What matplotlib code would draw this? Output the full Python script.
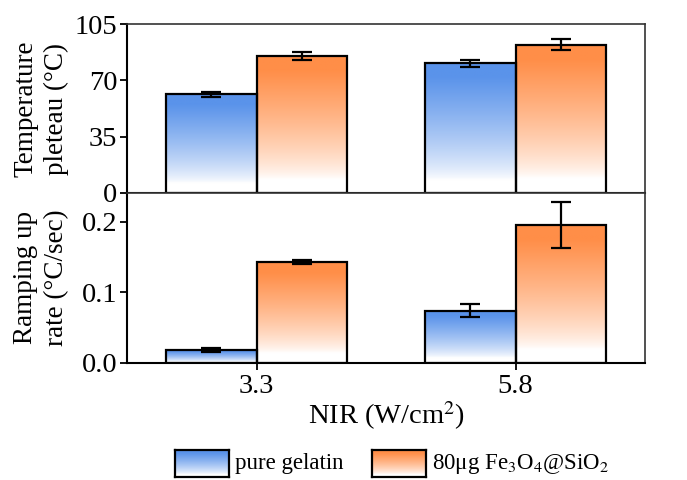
import numpy as np
import matplotlib
matplotlib.use("Agg")
import matplotlib.pyplot as plt
from matplotlib.colors import LinearSegmentedColormap
from matplotlib.patches import Rectangle

# Data
groups       = ["3.3", "5.8"]
plateau_gel  = [61.3, 80.7]
plateau_gel_err = [1.3, 2.2]
plateau_fe   = [85.2, 92.3]
plateau_fe_err = [2.7, 3.3]
rate_gel     = [0.0176, 0.074]
rate_gel_err = [0.003, 0.009]
rate_fe      = [0.143, 0.196]
rate_fe_err  = [0.003, 0.033]
labels = ["pure gelatin", "80\u03bcg Fe$_3$O$_4$@SiO$_2$"]

# Style
BLUE   = "#5A93EA"
ORANGE = "#FF8E48"
WIDTH  = 0.35
plt.rcParams["font.family"] = ["Liberation Serif", "DejaVu Serif"]
plt.rcParams["mathtext.fontset"] = "stix"
FS = 20.5
LFS = 19.5

cmaps = [LinearSegmentedColormap.from_list("b", ["white", BLUE]),
         LinearSegmentedColormap.from_list("o", ["white", ORANGE])]
t = np.linspace(0, 1, 256).reshape(-1, 1)
grad = np.clip((t - 0.1) / 0.8, 0, 1) ** 0.75


def grad_bar(ax, x, h, cmap):
    """Draws a bar filled with a vertical white-to-colour gradient"""
    x0 = x - WIDTH / 2
    ax.imshow(grad, cmap=cmap, origin="lower", aspect="auto",
              extent=[x0, x0 + WIDTH, 0, h], zorder=1)
    ax.add_patch(Rectangle((x0, 0), WIDTH, h, facecolor="none",
                           edgecolor="black", linewidth=1.6, zorder=2))


def panel(ax, gel, gel_err, fe, fe_err):
    xs = np.arange(len(groups))
    for i, x in enumerate(xs):
        grad_bar(ax, x - WIDTH / 2, gel[i], cmaps[0])
        grad_bar(ax, x + WIDTH / 2, fe[i], cmaps[1])
    ax.errorbar(xs - WIDTH / 2, gel, yerr=gel_err, fmt="none", ecolor="black",
                elinewidth=1.6, capsize=7, capthick=1.6, zorder=3)
    ax.errorbar(xs + WIDTH / 2, fe, yerr=fe_err, fmt="none", ecolor="black",
                elinewidth=1.6, capsize=7, capthick=1.6, zorder=3)
    ax.set_xlim(-0.5, 1.5)
    for s in ["left", "bottom"]:
        ax.spines[s].set_linewidth(1.5)
    for s in ["top", "right"]:
        ax.spines[s].set_linewidth(1.2)
        ax.spines[s].set_color("#333333")
    ax.tick_params(axis="y", direction="out", length=5, width=1.3, labelsize=FS, pad=2)
    ax.tick_params(axis="x", direction="out", length=5, width=1.3, labelsize=FS)


fig = plt.figure(figsize=(6.87, 4.8), dpi=100)
ax1 = fig.add_axes([0.185, 0.5985, 0.754, 0.3508])
ax2 = fig.add_axes([0.185, 0.2444, 0.754, 0.3541])

panel(ax1, plateau_gel, plateau_gel_err, plateau_fe, plateau_fe_err)
ax1.set_ylim(0, 105)
ax1.set_yticks([0, 35, 70, 105])
ax1.set_xticks([])
ax1.set_ylabel("Temperature\npleteau (\u00b0C)", fontsize=LFS, linespacing=1.3)

panel(ax2, rate_gel, rate_gel_err, rate_fe, rate_fe_err)
ax2.set_ylim(0, 0.2415)
ax2.set_yticks([0.0, 0.1, 0.2])
ax2.set_yticklabels(["0.0", "0.1", "0.2"])
ax2.set_xticks(np.arange(len(groups)))
ax2.set_xticklabels(groups)
ax2.set_ylabel("Ramping up\nrate (\u00b0C/sec)", fontsize=LFS, linespacing=1.3)
ax2.set_xlabel("NIR (W/cm$^2$)", fontsize=FS, labelpad=0)
ax1.yaxis.set_label_coords(-0.112, 0.5)
ax2.yaxis.set_label_coords(-0.112, 0.5)

# Legend built from gradient swatches
swatch_x = [175 / 687, 372 / 687]
for i in range(2):
    sax = fig.add_axes([swatch_x[i], 1 - 477 / 480, 54 / 687, 27 / 480])
    sax.imshow(grad, cmap=cmaps[i], origin="lower", aspect="auto", extent=[0, 1, 0, 1])
    sax.set_xticks([])
    sax.set_yticks([])
    for s in sax.spines.values():
        s.set_linewidth(1.6)
    fig.text(swatch_x[i] + 60 / 687, 1 - 464 / 480, labels[i], fontsize=16.5,
             va="center", ha="left")

fig.savefig("out.png", dpi=100)
